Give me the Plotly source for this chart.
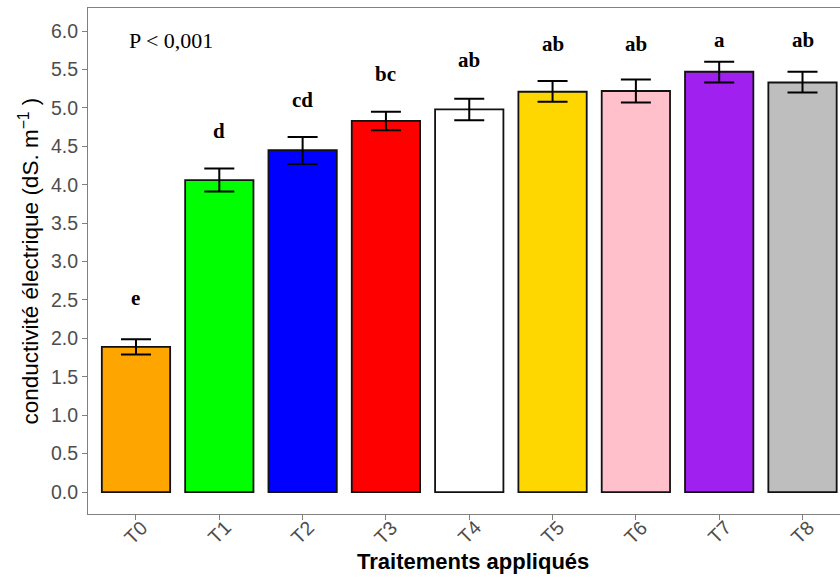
import plotly.graph_objects as go

categories = ["T0", "T1", "T2", "T3", "T4", "T5", "T6", "T7", "T8"]
means = [1.89, 4.06, 4.45, 4.83, 4.98, 5.21, 5.22, 5.47, 5.33]
err_hi = [0.10, 0.15, 0.17, 0.12, 0.14, 0.14, 0.15, 0.13, 0.14]
err_lo = [0.10, 0.15, 0.18, 0.12, 0.14, 0.13, 0.15, 0.14, 0.13]
colors = ["#FFA500", "#00FF00", "#0000FF", "#FF0000", "#FFFFFF",
          "#FFD700", "#FFC0CB", "#A020F0", "#BEBEBE"]
letters = ["e", "d", "cd", "bc", "ab", "ab", "ab", "a", "ab"]
letter_y = [2.52, 4.70, 5.10, 5.44, 5.62, 5.83, 5.83, 5.89, 5.89]
y_ticks = [0.0, 0.5, 1.0, 1.5, 2.0, 2.5, 3.0, 3.5, 4.0, 4.5, 5.0, 5.5, 6.0]

L, T, B = 88, 8, 69
PW, PH = 840 - L, 583 - T - B

fig = go.Figure()
fig.add_trace(go.Bar(
    x=list(range(len(categories))), y=means,
    width=0.82,
    marker=dict(color=colors, line=dict(color="#111111", width=1.8)),
    error_y=dict(type="data", symmetric=False, array=err_hi, arrayminus=err_lo,
                 color="black", thickness=2, width=15),
    showlegend=False,
))

for i, (lt, ly) in enumerate(zip(letters, letter_y)):
    fig.add_annotation(x=i, y=ly, text="<b>%s</b>" % lt, showarrow=False,
                       font=dict(family="Liberation Serif", size=21, color="black"),
                       xanchor="center", yanchor="middle")

# rotated category labels placed under their ticks
for i, c in enumerate(categories):
    fig.add_annotation(x=i, xref="x", yref="paper", y=(514 - 532) / PH, text=c,
                       showarrow=False, textangle=-45, xanchor="center", yanchor="middle",
                       font=dict(family="Liberation Sans", size=19.5, color="#4D4D4D"))

fig.add_annotation(xref="paper", yref="paper", x=(127 - L) / PW, y=(514 - 41) / PH,
                   text="P < 0,001", showarrow=False, xanchor="left", yanchor="middle",
                   font=dict(family="Liberation Serif", size=22, color="black"))

# axis titles
fig.add_annotation(xref="paper", yref="paper", x=(473 - L) / PW, y=(514 - 561) / PH,
                   text="<b>Traitements appliqués</b>", showarrow=False,
                   xanchor="center", yanchor="middle",
                   font=dict(family="Liberation Sans", size=22, color="black"))
fig.add_annotation(xref="paper", yref="paper", x=(28 - L) / PW, y=(514 - 261.5) / PH,
                   text="conductivité électrique (dS. m<sup>\u22121</sup> )", showarrow=False,
                   textangle=-90, xanchor="center", yanchor="middle",
                   font=dict(family="Liberation Sans", size=22.5, color="black"))

axis_col = "#808080"
fig.update_layout(
    width=840, height=583,
    margin=dict(l=L, r=0, t=T, b=B),
    plot_bgcolor="white", paper_bgcolor="white",
    xaxis=dict(
        range=[-0.576, 8.45],
        tickmode="array", tickvals=list(range(len(categories))), ticktext=categories,
        showticklabels=False,
        ticks="outside", ticklen=5, tickcolor=axis_col, tickwidth=1,
        showline=True, linecolor=axis_col, linewidth=1, mirror=True,
        showgrid=False, zeroline=False,
    ),
    yaxis=dict(
        range=[-0.286, 6.30],
        tickmode="array", tickvals=y_ticks, ticktext=["%.1f" % v for v in y_ticks],
        ticks="outside", ticklen=5, tickcolor=axis_col, tickwidth=1,
        tickfont=dict(family="Liberation Sans", size=19.5, color="#4D4D4D"),
        showline=True, linecolor=axis_col, linewidth=1, mirror=True,
        showgrid=False, zeroline=False,
    ),
)

fig.write_html("out.html")
